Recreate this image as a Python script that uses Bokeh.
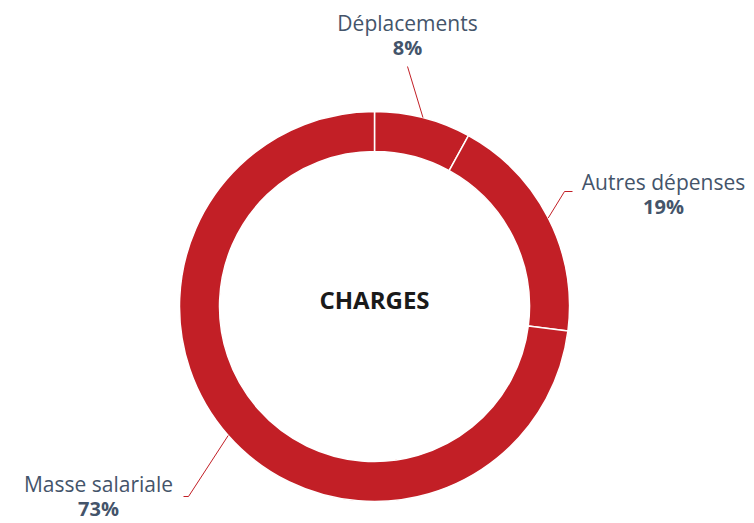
import math
from bokeh.plotting import figure
from bokeh.models import Range1d, ColumnDataSource
from bokeh.core.properties import value
from bokeh.embed import file_html
from bokeh.resources import INLINE

# ---- data ----
categories = ["Déplacements", "Autres dépenses", "Masse salariale"]
percents = [8, 19, 73]
center_title = "CHARGES"

# ---- layout ----
W, H = 754, 523
CX, CY = 374, H - 306
R_OUT, R_IN = 195, 155
RED = "#C21F26"
SLATE = "#44546A"
FONT = "Open Sans"

p = figure(width=W, height=H, output_backend="svg", toolbar_location=None,
           x_range=Range1d(0, W), y_range=Range1d(0, H), min_border=0)
p.axis.visible = False
p.grid.visible = False
p.outline_line_color = None

total = sum(percents)
starts, ends, mids = [], [], []
cum = 0
for v in percents:
    a0 = math.pi / 2 - 2 * math.pi * cum / total
    cum += v
    a1 = math.pi / 2 - 2 * math.pi * cum / total
    starts.append(a0)
    ends.append(a1)
    mids.append((a0 + a1) / 2)

src = ColumnDataSource(dict(x=[CX] * len(percents), y=[CY] * len(percents),
                            s=starts, e=ends, cat=categories))
p.annular_wedge(x="x", y="y", inner_radius=R_IN, outer_radius=R_OUT,
                inner_radius_units="screen", outer_radius_units="screen",
                start_angle="s", end_angle="e", direction="clock",
                fill_color=RED, line_color="white", line_width=1.5, source=src)

# label placement (pixel coords from top) and leader elbows
label_pos = [(407, 22), (663, 181), (98, 483)]
leader_pts = [
    [(407, 66)],
    [(564, 191), (572, 191)],
    [(188, 496), (183, 496)],
]
for i, cat in enumerate(categories):
    ax = CX + R_OUT * math.cos(mids[i])
    ay = CY + R_OUT * math.sin(mids[i])
    xs = [ax] + [pt[0] for pt in leader_pts[i]]
    ys = [ay] + [H - pt[1] for pt in leader_pts[i]]
    p.line(xs, ys, line_color=RED, line_width=1)
    lx, ly = label_pos[i]
    p.text(x=[lx], y=[H - ly], text=[cat], text_align="center",
           text_baseline="middle", text_font=value(FONT),
           text_font_size="21px", text_color=SLATE, text_font_style="normal")
    p.text(x=[lx], y=[H - ly - 25], text=[f"{percents[i]}%"], text_align="center",
           text_baseline="middle", text_font=value(FONT),
           text_font_size="20px", text_color=SLATE, text_font_style="bold")

p.text(x=[CX], y=[H - 299], text=[center_title], text_align="center",
       text_baseline="middle", text_font=value(FONT), text_font_size="24px",
       text_color="#1a1a1a", text_font_style="bold")

open("out.html", "w").write(file_html(p, INLINE))
